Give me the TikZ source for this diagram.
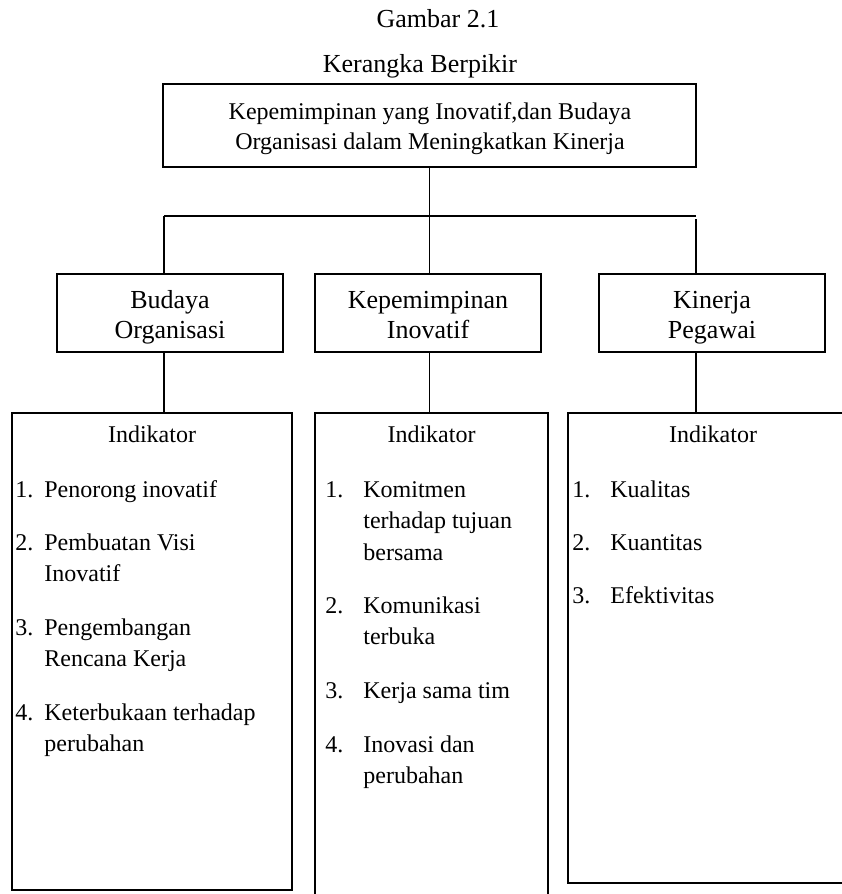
\documentclass[tikz,border=0pt]{standalone}
\usepackage{fontspec}
\setmainfont{Liberation Serif}
\usetikzlibrary{positioning}
\newcommand{\lst}[1]{\begin{tabular}[t]{@{}l@{}}#1\end{tabular}}

\begin{document}
\begin{tikzpicture}[
    x=0.5pt, y=-0.5pt,
    every node/.style={font=\fontsize{12}{15}\selectfont},
    box/.style={draw, line width=0.6pt, inner sep=0pt},
    txt/.style={anchor=base, align=center, inner sep=0pt},
    num/.style={anchor=base west, inner sep=0pt},
    itm/.style={anchor=base west, inner sep=0pt, font=\fontsize{12}{15.8}\selectfont},
    line/.style={line width=0.6pt}
  ]
  \useasboundingbox (0,0) rectangle (841,894);

  % judul
  \node[anchor=base, font=\fontsize{13}{15}\selectfont] (fig) at (438,27) {Gambar 2.1};
  \node[anchor=base, font=\fontsize{13}{15}\selectfont] (title) at (420,72) {Kerangka Berpikir};

  % kotak utama
  \node[box, minimum width=266.5pt, minimum height=41.5pt] (top) at (429.5,125.5) {};
  \node[txt] (topT) at (430,149) {Kepemimpinan yang Inovatif,dan Budaya\\Organisasi dalam Meningkatkan Kinerja};

  % variabel
  \node[box, minimum width=113pt, minimum height=39pt] (budaya) at (170,313) {};
  \node[box, minimum width=113pt, minimum height=39pt] (kepem) at (428,313) {};
  \node[box, minimum width=113pt, minimum height=39pt] (kinerja) at (712,313) {};
  \node[txt, font=\fontsize{13}{15}\selectfont] (budayaT) at (170,338) {Budaya\\Organisasi};
  \node[txt, font=\fontsize{13}{15}\selectfont] (kepemT) at (428,338) {Kepemimpinan\\Inovatif};
  \node[txt, font=\fontsize{13}{15}\selectfont] (kinerjaT) at (712,338) {Kinerja\\Pegawai};

  % kotak indikator
  \node[box, minimum width=140pt, minimum height=238.5pt] (ind1) at (152,651.5) {};
  \node[box, minimum width=116.5pt, minimum height=245.5pt] (ind2) at (431.5,658.5) {};
  \node[box, minimum width=145pt, minimum height=235pt] (ind3) at (713,648) {};
  \node[anchor=base] (h1) at ([yshift=-15pt]ind1.north) {Indikator};
  \node[anchor=base] (h2) at ([yshift=-15pt]ind2.north) {Indikator};
  \node[anchor=base] (h3) at ([yshift=-15pt]ind3.north) {Indikator};

  \foreach \y/\t [count=\i] in {497/Penorong inovatif, 550/{Pembuatan Visi\\Inovatif},
      635/{Pengembangan\\Rencana Kerja}, 720/{Keterbukaan terhadap\\perubahan}} {
    \node[num] (an\i) at (15,\y) {\i.};
    \node[itm] (at\i) at (44,\y) {\lst{\t}};
  }
  \foreach \y/\t [count=\i] in {497/{Komitmen\\terhadap tujuan\\bersama}, 613/{Komunikasi\\terbuka},
      698/Kerja sama tim, 752/{Inovasi dan\\perubahan}} {
    \node[num] (bn\i) at (325,\y) {\i.};
    \node[itm] (bt\i) at (363,\y) {\lst{\t}};
  }
  \foreach \y/\t [count=\i] in {497/Kualitas, 550/Kuantitas, 603/Efektivitas} {
    \node[num] (cn\i) at (572,\y) {\i.};
    \node[itm] (ct\i) at (610,\y) {\lst{\t}};
  }

  % garis penghubung
  \coordinate (busL) at (164,216);
  \coordinate (busR) at (696,216);
  \draw[line] (top.south) -- (top.south |- kepem.north);
  \draw[line] (busL) -- (busR);
  \draw[line] (busL) -- (busL |- budaya.north);
  \draw[line, shorten <=1.5pt] (busR) -- (busR |- kinerja.north);
  \draw[line] (busL |- budaya.south) -- (busL |- ind1.north);
  \draw[line] (top.south |- kepem.south) -- (top.south |- ind2.north);
  \draw[line] (busR |- kinerja.south) -- (busR |- ind3.north);
\end{tikzpicture}
\end{document}
